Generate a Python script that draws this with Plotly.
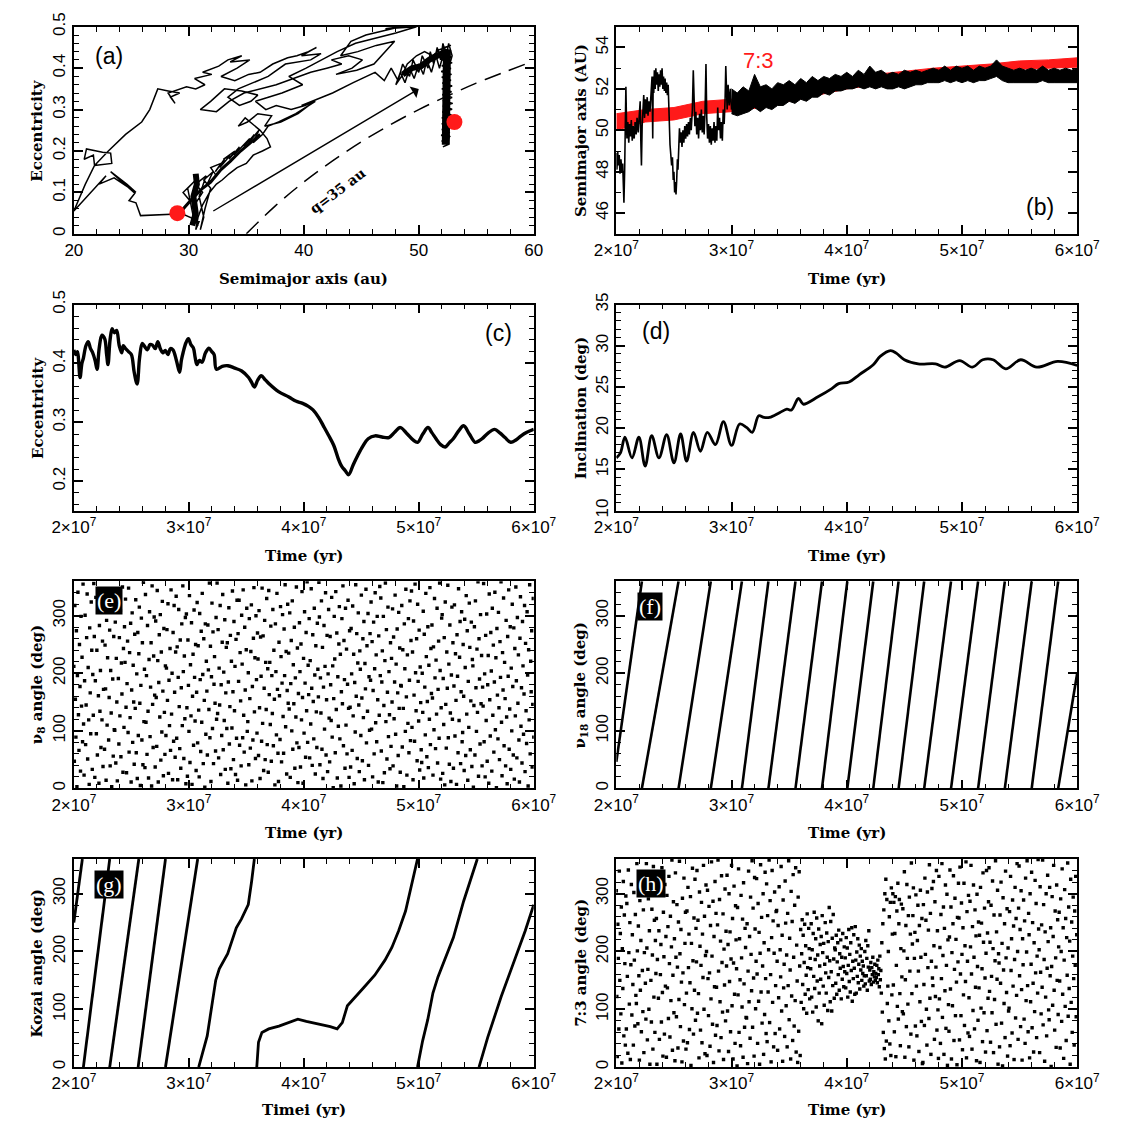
import numpy as np
import plotly.graph_objects as go

W, H = 1129, 1131

# ---------------- (a) eccentricity vs semimajor axis ----------------
traj = [
    (29.0, 0.048), (25.8, 0.044), (25.4, 0.075), (24.8, 0.08), (25.3, 0.098), (23.2, 0.15),
    (24.6, 0.12), (25.4, 0.10), (23.5, 0.135), (22.2, 0.12), (22.8, 0.14), (20.0, 0.055),
    (21.0, 0.12), (21.8, 0.165), (23.3, 0.17), (23.2, 0.195), (22.5, 0.197), (21.1, 0.205),
    (20.9, 0.18), (21.7, 0.19), (21.8, 0.165), (23.0, 0.2), (24.5, 0.24), (25.9, 0.27),
    (26.6, 0.30), (27.3, 0.35), (28.2, 0.345), (29.2, 0.34), (28.4, 0.33), (28.8, 0.315),
    (28.2, 0.34), (29.8, 0.355), (30.6, 0.35), (31.4, 0.36), (30.5, 0.375), (32.0, 0.385),
    (31.2, 0.39), (32.6, 0.405), (33.4, 0.42), (34.6, 0.43), (33.6, 0.415), (35.3, 0.42),
    (34.2, 0.40), (32.8, 0.38), (34.0, 0.37), (35.2, 0.385), (36.2, 0.39), (37.3, 0.41),
    (38.6, 0.425), (39.4, 0.43), (40.4, 0.44), (41.1, 0.45), (39.8, 0.43), (41.5, 0.435),
    (40.6, 0.42), (38.4, 0.41), (36.9, 0.38), (35.6, 0.365), (34.3, 0.35), (33.4, 0.33),
    (34.4, 0.31), (35.4, 0.32), (36.0, 0.335), (34.6, 0.345), (33.1, 0.35), (31.9, 0.32),
    (31.0, 0.30), (32.4, 0.295), (33.5, 0.32), (34.8, 0.34), (36.2, 0.35), (37.6, 0.36),
    (39.1, 0.375), (40.6, 0.39), (42.0, 0.40), (43.3, 0.41), (42.4, 0.42), (43.9, 0.43),
    (45.1, 0.42), (44.2, 0.40), (42.8, 0.385), (44.6, 0.395), (46.1, 0.41), (47.9, 0.465),
    (46.3, 0.455), (44.7, 0.44), (43.2, 0.43), (44.1, 0.465), (45.4, 0.48), (46.9, 0.49),
    (48.4, 0.50), (47.1, 0.495), (49.8, 0.50), (48.0, 0.485), (46.0, 0.47), (44.5, 0.46),
    (42.9, 0.44), (41.6, 0.42), (40.2, 0.40), (38.7, 0.38), (39.9, 0.36), (38.1, 0.34),
    (37.0, 0.33), (35.8, 0.32), (36.7, 0.30), (37.6, 0.31), (38.9, 0.30), (40.1, 0.31),
    (40.9, 0.32), (39.5, 0.29), (38.0, 0.27), (36.6, 0.26), (37.2, 0.285), (36.0, 0.29),
    (35.1, 0.27), (34.3, 0.26), (34.9, 0.28), (36.2, 0.25), (36.8, 0.23), (37.1, 0.21),
    (36.4, 0.20), (35.6, 0.19), (35.0, 0.17), (34.2, 0.16), (33.5, 0.145), (32.9, 0.13),
    (32.4, 0.12), (31.8, 0.10), (31.2, 0.07), (30.8, 0.04), (30.6, 0.01), (30.9, 0.03),
    # low-eccentricity clump near 30 au and the branch climbing out of it
    (29.3, 0.05), (30.1, 0.08), (29.5, 0.10), (30.6, 0.13), (29.9, 0.11), (30.4, 0.04),
    (30.8, 0.02), (30.5, 0.07), (31.2, 0.10), (30.6, 0.12), (31.5, 0.14), (30.9, 0.09),
    (31.3, 0.04), (31.0, 0.01), (31.4, 0.06), (31.9, 0.11), (31.3, 0.13), (32.1, 0.15),
    (31.6, 0.12), (32.4, 0.14), (31.9, 0.16), (32.8, 0.17), (32.3, 0.15), (33.1, 0.18),
    (32.7, 0.16), (33.6, 0.19), (33.0, 0.18), (34.0, 0.20), (33.5, 0.18), (34.4, 0.21),
    (33.9, 0.19), (34.9, 0.22), (34.3, 0.20), (35.3, 0.23), (34.8, 0.21), (35.7, 0.24),
    (35.2, 0.22), (36.1, 0.25), (35.6, 0.22), (36.4, 0.24), (36.9, 0.26), (37.8, 0.27),
    (39.3, 0.29), (41.0, 0.32), (39.8, 0.31), (42.5, 0.34), (44.3, 0.365), (46.2, 0.39),
    # dense cluster near 50 au
    (47.0, 0.37), (47.6, 0.40), (48.2, 0.37), (48.6, 0.41), (49.2, 0.38), (49.5, 0.42),
    (50.0, 0.39), (50.3, 0.43), (50.8, 0.40), (51.0, 0.44), (51.3, 0.41), (51.6, 0.45),
    (51.9, 0.42), (52.1, 0.46), (52.4, 0.43), (52.6, 0.46), (52.9, 0.43), (52.7, 0.41),
    (52.2, 0.44), (51.8, 0.40), (51.5, 0.43), (51.1, 0.39), (50.7, 0.42), (50.4, 0.385),
    (50.0, 0.41), (49.6, 0.375), (49.2, 0.40), (48.8, 0.365), (48.4, 0.39), (48.0, 0.36),
    (48.5, 0.38), (49.0, 0.41), (49.8, 0.43), (50.5, 0.44), (51.2, 0.43), (51.8, 0.445),
    (52.3, 0.45), (52.8, 0.455),
    # descent at nearly constant semimajor axis
    (52.0, 0.448), (52.85, 0.441), (51.95, 0.434), (52.8, 0.427), (52.0, 0.420), (52.9, 0.413),
    (52.0, 0.406), (52.8, 0.399), (51.95, 0.392), (52.85, 0.385), (52.0, 0.378), (52.8, 0.371),
    (52.05, 0.364), (52.9, 0.357), (52.0, 0.350), (52.85, 0.343), (52.05, 0.336), (52.9, 0.329),
    (52.1, 0.322), (52.95, 0.315), (52.1, 0.308), (52.9, 0.301), (52.05, 0.294), (52.85, 0.287),
    (52.0, 0.280), (52.8, 0.273), (52.0, 0.266), (52.75, 0.259), (52.0, 0.252), (52.7, 0.245),
    (51.95, 0.238), (52.65, 0.231), (52.0, 0.224), (52.6, 0.217), (52.1, 0.210), (52.5, 0.215),
    (52.2, 0.222), (52.7, 0.235), (52.3, 0.248), (52.85, 0.26), (53.1, 0.27),
]
traj_a = [p[0] for p in traj]
traj_e = [p[1] for p in traj]

# mean tracks of the stretches where the orbit oscillates too fast to resolve
dense_tracks = [
    [(30.3, 0.02), (30.6, 0.05), (30.4, 0.09), (30.7, 0.12), (30.6, 0.145)],
    [(29.5, 0.06), (30.3, 0.085), (31.2, 0.11), (31.9, 0.125), (32.8, 0.155), (33.6, 0.175),
     (34.5, 0.20), (35.4, 0.22), (36.2, 0.24)],
    [(48.6, 0.385), (49.4, 0.40), (50.2, 0.405), (50.9, 0.42), (51.6, 0.43), (52.3, 0.44)],
    [(52.45, 0.445), (52.4, 0.40), (52.5, 0.35), (52.45, 0.30), (52.35, 0.25), (52.35, 0.215)],
]
dense_track_widths = [6, 3, 6, 8]

endpoints_a = [29.0, 53.1]
endpoints_e = [0.05, 0.27]
# perihelion q = 35 au curve
q35_a = [35, 37.5, 40, 42.5, 45, 47.5, 50, 52.5, 55, 57.5, 59.4]
q35_e = [0.0, 0.067, 0.125, 0.176, 0.222, 0.263, 0.30, 0.333, 0.364, 0.391, 0.411]

# ---------------- (b) semimajor axis vs time (time in 1e7 yr) ----------------
b_early = [
    (2.000, 48.9), (2.005, 48.1), (2.012, 49.0), (2.018, 48.3), (2.025, 48.8), (2.032, 47.9),
    (2.040, 48.6), (2.048, 48.0), (2.055, 48.4), (2.062, 47.2), (2.066, 46.5), (2.072, 48.0),
    (2.078, 49.5), (2.083, 52.1), (2.088, 50.5), (2.092, 49.6), (2.100, 50.4), (2.108, 49.4),
    (2.115, 50.3), (2.122, 49.7), (2.130, 50.5), (2.138, 49.5), (2.146, 50.2), (2.155, 49.6),
    (2.163, 50.4), (2.172, 49.8), (2.180, 50.6), (2.190, 49.9), (2.200, 50.8), (2.207, 51.4),
    (2.213, 49.4), (2.218, 48.3), (2.224, 50.2), (2.232, 51.2), (2.238, 51.7), (2.245, 50.6),
    (2.252, 51.5), (2.260, 50.8), (2.268, 51.6), (2.275, 50.7), (2.283, 51.4), (2.292, 50.9),
    (2.300, 51.8), (2.310, 52.6), (2.316, 49.6), (2.320, 52.6), (2.325, 51.8), (2.330, 52.9),
    (2.337, 52.0), (2.343, 53.0), (2.350, 52.2), (2.357, 52.8), (2.364, 51.9), (2.370, 52.7),
    (2.377, 52.1), (2.384, 52.9), (2.390, 52.2), (2.397, 53.0), (2.404, 52.0), (2.410, 52.6),
    (2.417, 51.9), (2.423, 52.5), (2.430, 51.8), (2.437, 52.3), (2.443, 51.7), (2.450, 52.2),
    (2.458, 50.5), (2.466, 49.3), (2.473, 48.8), (2.480, 48.3), (2.487, 48.7), (2.494, 47.6),
    (2.500, 48.0), (2.506, 47.0), (2.512, 47.5), (2.518, 46.9), (2.524, 47.6), (2.530, 48.6),
    (2.535, 48.1), (2.542, 49.2), (2.548, 50.1), (2.555, 49.4), (2.562, 49.9), (2.570, 49.2),
    (2.578, 50.0), (2.586, 49.4), (2.594, 50.2), (2.602, 49.6), (2.610, 50.3), (2.618, 49.7),
    (2.626, 50.4), (2.634, 49.8), (2.642, 50.6), (2.650, 50.0), (2.660, 51.0), (2.668, 52.9),
    (2.675, 51.0), (2.682, 50.2), (2.690, 50.9), (2.698, 49.8), (2.706, 50.6), (2.714, 49.6),
    (2.722, 50.8), (2.730, 50.0), (2.738, 51.0), (2.746, 49.9), (2.754, 50.7), (2.762, 49.8),
    (2.770, 50.9), (2.778, 53.2), (2.785, 50.6), (2.792, 49.6), (2.800, 50.3), (2.808, 49.4),
    (2.816, 50.2), (2.824, 49.3), (2.832, 50.1), (2.840, 49.5), (2.848, 50.4), (2.856, 49.4),
    (2.864, 50.2), (2.872, 49.5), (2.880, 51.1), (2.888, 50.0), (2.896, 50.6), (2.904, 49.6),
    (2.912, 50.4), (2.920, 49.5), (2.928, 51.0), (2.936, 50.3), (2.944, 51.5), (2.950, 53.1),
    (2.956, 52.0), (2.962, 51.0), (2.970, 52.2), (2.980, 51.2), (2.990, 52.0), (3.000, 51.0),
]
b_early_t = [p[0] for p in b_early]
b_early_a = [p[1] for p in b_early]

# envelope of the rapidly oscillating black curve, 3.00 .. 6.00 (step 0.05)
b_band_hi = [52.0, 51.8, 52.1, 51.9, 52.7, 52.1, 52.2, 52.0, 52.3, 52.2, 52.4, 52.2, 52.5, 52.3, 52.6,
             52.4, 52.6, 52.5, 52.7, 52.6, 52.8, 52.6, 52.9, 52.7, 53.1, 52.8, 52.9, 52.7, 52.8, 52.7,
             52.9, 52.8, 52.9, 52.8, 52.9, 53.0, 52.9, 53.1, 52.9, 53.1, 53.0, 53.1, 52.9, 53.1, 53.0,
             53.1, 53.4, 53.1, 53.0, 52.9, 53.0, 52.9, 53.0, 52.9, 53.1, 52.9, 53.0, 52.9, 53.0, 52.9,
             53.0]
b_band_lo = [50.8, 50.7, 50.8, 50.9, 51.1, 50.9, 51.1, 51.0, 51.2, 51.2, 51.4, 51.3, 51.5, 51.4, 51.6,
             51.6, 51.8, 51.7, 51.9, 51.9, 52.0, 52.0, 52.1, 52.0, 52.1, 52.0, 52.1, 52.0, 52.0, 52.1,
             52.0, 52.1, 52.2, 52.2, 52.3, 52.3, 52.3, 52.4, 52.3, 52.4, 52.3, 52.4, 52.3, 52.4, 52.4,
             52.5, 52.6, 52.4, 52.3, 52.3, 52.3, 52.3, 52.3, 52.3, 52.4, 52.3, 52.3, 52.3, 52.3, 52.3,
             52.3]
b_band_t = np.linspace(3.0, 6.0, len(b_band_hi))

# 7:3 resonance location band
res73_t = [2.0, 2.25, 2.5, 2.75, 3.0, 3.25, 3.5, 3.75, 4.0, 4.25, 4.5, 4.75, 5.0, 5.25, 5.5, 5.75, 6.0]
res73_lo = [50.0, 50.4, 50.5, 50.8, 50.9, 51.1, 51.4, 51.7, 52.0, 52.2, 52.4, 52.55, 52.7, 52.85, 52.95, 53.0, 53.05]
res73_hi = [50.8, 51.0, 51.1, 51.4, 51.5, 51.5, 51.9, 52.2, 52.5, 52.7, 52.85, 53.0, 53.1, 53.2, 53.35, 53.4, 53.5]

# ---------------- (c) eccentricity vs time ----------------
ecc_curve = [
    (2.000, 0.423), (2.015, 0.415), (2.030, 0.420), (2.054, 0.376), (2.070, 0.400), (2.083, 0.409),
    (2.105, 0.430), (2.125, 0.437), (2.145, 0.425), (2.164, 0.418), (2.185, 0.405), (2.202, 0.390),
    (2.220, 0.425), (2.244, 0.448), (2.268, 0.442), (2.285, 0.415), (2.297, 0.398), (2.315, 0.440),
    (2.333, 0.459), (2.352, 0.452), (2.372, 0.456), (2.395, 0.430), (2.416, 0.418), (2.430, 0.430),
    (2.446, 0.426), (2.475, 0.420), (2.500, 0.415), (2.525, 0.385), (2.550, 0.365), (2.572, 0.410),
    (2.595, 0.434), (2.618, 0.428), (2.640, 0.423), (2.662, 0.432), (2.684, 0.431), (2.708, 0.425),
    (2.730, 0.437), (2.752, 0.425), (2.773, 0.418), (2.796, 0.422), (2.818, 0.415), (2.840, 0.425),
    (2.862, 0.423), (2.892, 0.405), (2.920, 0.385), (2.935, 0.405), (2.950, 0.418), (2.975, 0.435),
    (2.996, 0.442), (3.018, 0.432), (3.040, 0.426), (3.055, 0.410), (3.070, 0.398), (3.092, 0.405),
    (3.115, 0.402), (3.145, 0.418), (3.175, 0.426), (3.200, 0.420), (3.220, 0.415), (3.240, 0.390),
    (3.290, 0.395), (3.340, 0.396), (3.400, 0.392), (3.460, 0.387), (3.520, 0.376), (3.545, 0.368),
    (3.570, 0.360), (3.600, 0.372), (3.630, 0.379), (3.665, 0.372), (3.700, 0.365), (3.780, 0.352),
    (3.870, 0.343), (3.930, 0.336), (3.990, 0.332), (4.040, 0.327), (4.080, 0.321), (4.130, 0.308),
    (4.170, 0.294), (4.215, 0.278), (4.260, 0.261), (4.300, 0.238), (4.330, 0.225), (4.360, 0.218),
    (4.390, 0.211), (4.430, 0.228), (4.470, 0.244), (4.515, 0.260), (4.560, 0.272), (4.620, 0.277),
    (4.680, 0.275), (4.740, 0.274), (4.790, 0.283), (4.840, 0.291), (4.900, 0.280), (4.950, 0.270),
    (4.990, 0.266), (5.035, 0.280), (5.080, 0.291), (5.115, 0.282), (5.150, 0.272), (5.190, 0.262),
    (5.230, 0.258), (5.265, 0.265), (5.300, 0.272), (5.345, 0.285), (5.390, 0.294), (5.440, 0.280),
    (5.490, 0.266), (5.520, 0.268), (5.550, 0.272), (5.605, 0.282), (5.660, 0.288), (5.705, 0.282),
    (5.750, 0.274), (5.800, 0.266), (5.845, 0.270), (5.890, 0.277), (5.940, 0.283), (6.000, 0.288),
]
ecc_t = [p[0] for p in ecc_curve]
ecc_v = [p[1] for p in ecc_curve]

# ---------------- (d) inclination vs time ----------------
inc_curve = [
    (2.000, 16.4), (2.036, 17.0), (2.075, 18.9), (2.136, 16.4), (2.196, 18.9), (2.250, 15.4),
    (2.307, 19.1), (2.370, 16.4), (2.437, 19.2), (2.500, 15.8), (2.558, 19.3), (2.610, 16.0),
    (2.670, 19.5), (2.730, 17.2), (2.790, 19.5), (2.860, 18.0), (2.930, 20.8), (3.000, 17.9),
    (3.070, 20.5), (3.130, 20.1), (3.180, 19.5), (3.236, 21.5), (3.280, 21.3), (3.330, 21.3),
    (3.420, 21.9), (3.480, 22.3), (3.520, 22.2), (3.580, 23.6), (3.610, 23.1), (3.625, 22.9),
    (3.750, 23.8), (3.870, 24.8), (3.930, 25.4), (4.020, 25.6), (4.110, 26.5), (4.230, 27.7),
    (4.290, 28.7), (4.380, 29.4), (4.430, 29.1), (4.500, 28.3), (4.620, 27.8), (4.770, 27.8),
    (4.850, 27.4), (4.980, 28.2), (5.090, 27.4), (5.180, 28.3), (5.270, 28.3), (5.380, 27.2),
    (5.510, 28.3), (5.650, 27.4), (5.830, 28.1), (6.000, 27.6),
]
inc_t = [p[0] for p in inc_curve]
inc_v = [p[1] for p in inc_curve]

# ---------------- (e) nu8 angle samples (evenly spaced outputs) ----------------
nu8_angle = [
    212, 47, 318, 155, 89, 274, 3, 196, 341, 128, 66, 250, 177, 30, 299, 143, 228, 81, 355, 112,
    23, 187, 301, 76, 145, 262, 338, 51, 210, 119, 7, 279, 166, 95, 324, 240, 33, 198, 127, 356,
    264, 19, 187, 332, 95, 240, 58, 306, 161, 9, 283, 134, 205, 71, 347, 119, 256, 38, 172, 321,
    68, 249, 173, 14, 292, 110, 227, 341, 84, 158, 275, 39, 205, 131, 3, 316, 190, 56, 264, 102,
    101, 289, 44, 226, 150, 13, 337, 191, 77, 262, 126, 309, 55, 218, 164, 350, 28, 243, 106, 281,
    219, 329, 141, 27, 182, 256, 97, 348, 63, 236, 123, 287, 11, 171, 305, 80, 214, 150, 42, 268,
    139, 328, 62, 199, 17, 271, 92, 234, 315, 148, 5, 179, 296, 84, 253, 41, 358, 116, 207, 36,
    337, 115, 196, 59, 283, 134, 18, 224, 307, 90, 176, 253, 4, 352, 146, 71, 230, 298, 162, 37,
    291, 158, 73, 344, 222, 11, 184, 267, 124, 302, 49, 237, 98, 325, 169, 22, 278, 132, 59, 213,
    92, 209, 276, 153, 321, 26, 188, 109, 243, 66, 345, 129, 200, 15, 271, 82, 318, 167, 54, 237,
    334, 87, 246, 15, 193, 311, 142, 69, 258, 35, 175, 286, 109, 352, 203, 52, 230, 121, 297, 8,
    303, 140, 21, 258, 179, 99, 335, 45, 215, 126, 288, 7, 160, 233, 75, 310, 193, 117, 250, 31,
    167, 323, 79, 248, 136, 20, 304, 189, 64, 273, 115, 339, 198, 43, 260, 153, 2, 286, 94, 221,
    169, 58, 284, 206, 137, 357, 88, 247, 12, 194, 322, 104, 272, 43, 181, 229, 148, 65, 297, 120,
    357, 130, 276, 53, 209, 145, 318, 24, 180, 92, 254, 337, 67, 202, 118, 293, 33, 166, 245, 104,
    253, 9, 185, 314, 77, 142, 266, 34, 221, 105, 343, 168, 50, 290, 135, 212, 24, 259, 87, 327,
    14, 269, 186, 327, 75, 236, 152, 39, 301, 216, 88, 345, 127, 63, 280, 171, 6, 241, 313, 99,
    116, 201, 41, 295, 156, 70, 238, 319, 13, 177, 84, 261, 349, 133, 227, 52, 300, 189, 96, 270,
    225, 57, 309, 140, 17, 263, 195, 82, 348, 113, 265, 31, 174, 292, 50, 219, 137, 330, 76, 208,
    28, 344, 163, 219, 111, 282, 47, 196, 130, 311, 74, 240, 155, 6, 286, 203, 93, 339, 172, 61,
    12, 254, 161, 85, 316, 229, 46, 183, 302, 125, 61, 277, 196, 354, 107, 238, 25, 170, 320, 148,
    235, 138, 305, 19, 182, 257, 100, 326, 68, 215, 147, 280, 35, 192, 124, 350, 79, 244, 10, 165,
    71, 288, 203, 37, 251, 119, 342, 158, 9, 226, 96, 307, 183, 54, 271, 135, 359, 80, 214, 163,
    295, 53, 222, 112, 347, 174, 40, 267, 151, 86, 313, 197, 25, 248, 133, 71, 287, 207, 159, 358,
    298, 41, 192, 131, 326, 68, 245, 17, 176, 283, 103, 212, 340, 58, 154, 266, 29, 199, 311, 122,
    46, 264, 180, 118, 332, 89, 213, 1, 156, 299, 225, 62, 342, 137, 270, 18, 194, 108, 251, 316,
    86, 233, 4, 168, 295, 147, 352, 74, 257, 189, 35, 313, 110, 242, 60, 181, 327, 139, 19, 274,
    141, 37, 278, 199, 66, 317, 126, 233, 8, 184, 98, 354, 160, 269, 52, 218, 305, 145, 29, 239,
    207, 92, 336, 157, 48, 260, 123, 290, 15, 217, 173, 346, 79, 248, 134, 304, 40, 194, 101, 269,
    188, 324, 103, 255, 20, 170, 289, 60, 208, 340, 114, 232, 81, 299, 154, 11, 265, 127, 351, 196,
    331, 65, 185, 239, 10, 299, 144, 27, 222, 357, 116, 276, 51, 167, 315, 90, 203, 128, 34, 253,
    73, 226, 150, 312, 39, 263, 121, 185, 336, 94, 216, 4, 277, 166, 57, 306, 139, 244, 28, 179,
    178, 318, 72, 241, 139, 3, 286, 208, 99, 346, 159, 23, 232, 113, 295, 62, 188, 326, 83, 257,
    343, 106, 237, 15, 291, 162, 82, 355, 201, 135, 260, 48, 320, 186, 117, 275, 32, 211, 149, 67,
    45, 200, 132, 308, 18, 268, 176, 93, 339, 229, 55, 151, 281, 36, 214, 120, 349, 76, 243, 165,
    284, 157, 23, 246, 102, 330, 192, 69, 223, 129, 313, 44, 172, 256, 87, 357, 205, 16, 140, 296,
    302, 26, 191, 111, 262, 6, 324, 146, 70, 237, 174, 353, 88, 216, 42, 284, 131, 12, 197, 315,
    120, 253, 35, 178, 319, 91, 234, 153, 7, 267, 195, 62, 347, 118, 228, 290, 43, 168, 307, 81,
    97, 250, 160, 31, 294, 210, 57, 335, 129, 274, 14, 186, 106, 322, 245, 67, 152, 289, 38, 224,
    213, 2, 144, 281, 58, 326, 175, 99, 242, 132, 359, 21, 260, 190, 77, 302, 147, 231, 39, 176,
    143, 356, 81, 199, 20, 266, 118, 303, 47, 180, 231, 9, 338, 154, 91, 271, 204, 30, 313, 127,
    249, 63, 185, 341, 102, 227, 1, 278, 162, 86, 306, 140, 50, 255, 193, 359, 115, 22, 236, 171,
    331, 74, 219, 156, 39, 292, 124, 8, 264, 195, 345, 68, 138, 281, 33, 209, 100, 320, 177, 58,
    279, 16, 243, 126, 350, 187, 53, 297, 148, 232, 84, 11, 261, 333, 108, 175, 44, 290, 213, 94,
    164, 318, 29, 252, 135, 78, 307, 197, 4, 241, 119, 354, 60, 221, 168, 274, 37, 146, 330, 89,
]

# ---------------- (f) nu18 angle: circulation, times (1e7 yr) where it wraps 360 -> 0 ----------------
nu18_start_angle = 46
nu18_wrap_t = [2.222, 2.540, 2.820, 3.090, 3.320, 3.555, 3.785, 4.005, 4.230, 4.450,
               4.672, 4.905, 5.140, 5.372, 5.605, 5.835]
nu18_end_angle = 200

# ---------------- (g) Kozai angle branches (time 1e7 yr, angle deg) ----------------
kozai_branches = [
    [(2.000, 250), (2.074, 360)],
    [(2.083, 0), (2.312, 360)],
    [(2.312, 0), (2.565, 360)],
    [(2.559, 0), (2.797, 360)],
    [(2.797, 0), (3.077, 360)],
    [(3.086, 0), (3.160, 54), (3.234, 150), (3.265, 170), (3.338, 196), (3.413, 241),
     (3.457, 256), (3.517, 281), (3.546, 321), (3.570, 360)],
    [(3.591, 0), (3.606, 43), (3.636, 60), (3.695, 66), (3.784, 71), (3.903, 80), (3.948, 83),
     (4.022, 79), (4.141, 74), (4.230, 70), (4.290, 66), (4.335, 77), (4.379, 106), (4.439, 119),
     (4.483, 128), (4.528, 139), (4.617, 159), (4.706, 185), (4.766, 207), (4.825, 236),
     (4.885, 270), (4.944, 321), (4.989, 360)],
    [(4.989, 0), (5.033, 45), (5.078, 82), (5.123, 128), (5.167, 156), (5.227, 185),
     (5.301, 224), (5.390, 287), (5.509, 360)],
    [(5.524, 0), (5.599, 51), (5.717, 122), (5.836, 188), (5.926, 236), (6.000, 281)],
]

# ---------------- (h) 7:3 resonant angle samples, grouped by time span (1e7 yr) ----------------
res73_circ_early = [
    305, 122, 18, 247, 188, 66, 339, 150, 231, 92, 277, 7, 205, 136, 321, 54, 263, 179, 38, 296,
    66, 283, 157, 24, 341, 198, 109, 250, 13, 177, 316, 90, 229, 143, 38, 302, 185, 71, 264, 124,
    110, 352, 201, 75, 244, 158, 12, 288, 133, 219, 61, 334, 167, 96, 272, 25, 198, 310, 145, 83,
    352, 206, 47, 169, 291, 100, 236, 5, 319, 150, 78, 273, 194, 31, 347, 121, 254, 60, 219, 162,
    257, 5, 186, 323, 119, 236, 48, 299, 160, 212, 78, 345, 129, 19, 268, 191, 57, 316, 140, 226,
    17, 297, 137, 243, 84, 330, 179, 52, 261, 115, 208, 358, 29, 159, 286, 94, 222, 11, 336, 190,
    87, 281, 173, 33, 251, 117, 356, 196, 70, 238, 147, 9, 292, 163, 45, 327, 108, 214, 268, 31,
    128, 270, 42, 311, 172, 230, 65, 146, 295, 3, 214, 101, 344, 184, 57, 258, 133, 325, 81, 240,
    182, 340, 93, 254, 127, 16, 303, 209, 64, 176, 285, 42, 230, 155, 349, 100, 261, 23, 193, 315,
    200, 20, 306, 153, 89, 278, 163, 36, 245, 118, 355, 192, 74, 287, 8, 226, 139, 321, 55, 266,
    138, 72, 246, 358, 166, 28, 290, 113, 218, 51, 331, 181, 95, 265, 13, 204, 142, 308, 80, 235,
    175, 332, 97, 212, 27, 300, 148, 234, 61, 187, 349, 106, 257, 14, 180, 313, 126, 41, 279, 220,
    170, 2, 276, 125, 343, 60, 222, 151, 37, 297, 189, 104, 256, 17, 319, 144, 69, 240, 207, 86,
    85, 248, 6, 166, 339, 113, 226, 50, 294, 195, 132, 357, 69, 275, 154, 19, 328, 239, 101, 183,
    326, 161, 41, 283, 114, 233, 5, 197, 350, 130, 259, 76, 175, 300, 22, 215, 91, 337, 153, 58,
    317, 44, 262, 130, 203, 358, 77, 288, 160, 9, 224, 340, 112, 253, 35, 197, 303, 58, 141, 269,
    271, 183, 29, 245, 120, 312, 66, 203, 156, 347, 97, 228, 10, 289, 137, 178, 53, 322, 249, 106,
    194, 35, 266, 141, 357, 82, 223, 168, 14, 304, 123, 252, 46, 333, 190, 71, 280, 115, 345, 26,
    211, 149, 8, 294, 62, 338, 175, 20,
]
res73_libr_a = [
    238, 112, 196, 255, 143, 228, 101, 181, 247, 126, 210, 159, 93, 265, 172, 134, 240, 205, 118, 188,
    170, 248, 121, 203, 95, 231, 157, 268, 136, 186, 222, 104, 258, 149, 194, 80, 239, 128, 175, 212,
    152, 226, 75, 262, 198, 140, 214, 107, 178, 250, 163, 128, 232, 190, 98, 217, 155, 276, 184,
    113, 252, 165, 97, 223, 141, 264, 187, 119, 206,
]
res73_libr_b = [
    203, 145, 228, 126, 182, 215, 160, 237, 133, 196, 171, 220, 118, 190, 152, 231, 174, 139, 208, 165,
    189, 137, 224, 162, 206, 121, 176, 238, 148, 195, 130, 215, 167, 241, 114, 183, 153, 229, 171, 126,
    243, 185, 128, 199, 157, 222, 146, 178, 211, 135, 192, 168, 205, 150, 183, 162, 175, 140, 158,
    200, 144, 219, 158, 188, 133, 210, 173, 236, 149,
]
res73_libr_c = [168, 152, 181, 143, 172, 160, 190, 147, 165, 156, 178, 150, 162,
                155, 176, 146, 185, 160, 170, 139, 192, 151, 167]
res73_exit = [128, 215, 95, 248, 60, 272, 32, 300, 14, 325, 45, 290, 110,
              140, 200, 80, 260, 40, 285, 20, 310, 125, 230]
res73_circ_late = [
    300, 142, 285, 61, 231, 295, 18, 176, 270, 105, 318, 83, 248, 290, 127, 37, 205, 282, 156, 96,
    274, 92, 201, 338, 17, 151, 245, 70, 316, 188, 109, 262, 35, 294, 166, 230, 57, 353, 127, 213,
    262, 310, 12, 188, 233, 71, 298, 140, 54, 219, 280, 166, 27, 245, 113, 306, 190, 79, 257, 6,
    8, 281, 143, 72, 327, 195, 254, 100, 38, 303, 172, 237, 84, 350, 119, 266, 22, 183, 309, 154,
    141, 321, 210, 48, 286, 122, 173, 340, 64, 236, 99, 15,
    330, 118, 207, 41, 264, 153, 352, 86, 193, 277, 22, 240, 132, 315, 67, 176, 299, 3, 220, 108,
    62, 225, 341, 135, 277, 14, 198, 106, 248, 331, 46, 169, 292, 89, 221, 147, 4, 259, 182, 318,
    258, 47, 346, 161, 89, 284, 195, 30, 241, 125, 318, 72, 210, 148, 355, 16, 269, 183, 59, 297,
    120, 53, 287, 208, 349, 161, 31, 243, 98, 315, 190, 66, 272, 138, 227, 11, 299, 174, 81, 251,
    137, 228, 8, 311, 102, 249, 170, 44, 336, 216, 94, 275, 154, 26, 197, 340, 63, 232, 119, 286,
    345, 131, 216, 43, 280, 157, 94, 322, 205, 25, 263, 117, 184, 357, 74, 234, 152, 306, 5, 196,
    180, 35, 263, 145, 320, 76, 214, 2, 293, 168, 110, 248, 51, 339, 189, 129, 274, 19, 206, 97,
    102, 269, 37, 330, 167, 222, 59, 289, 140, 244, 13, 186, 311, 85, 257, 124, 352, 200, 48, 275,
    348, 158, 238, 70, 305, 134, 12, 222, 177, 289, 83, 253, 41, 327, 115, 199, 357, 141, 61, 266,
    229, 16, 300, 113, 178, 337, 68, 250, 145, 26, 215, 96, 323, 163, 283, 51, 192, 128, 359, 239,
    203, 25, 312, 164, 92, 246, 138, 358, 73, 281, 186, 10, 234, 121, 300, 54, 171, 332, 217, 99,
    82, 311, 158, 241, 1, 174, 295, 107, 226, 349, 133, 64, 270, 189, 34, 315, 150, 255, 91, 208,
    268, 149, 33, 291, 200, 79, 343, 126, 241, 15, 185, 307, 105, 257, 46, 224, 159, 353, 88, 277,
    136, 218, 5, 325, 112, 251, 60, 192, 294, 153, 38, 270, 176, 330, 87, 229,
]
res73_segments = [
    (2.0, 3.6, res73_circ_early),
    (3.6, 3.9, res73_libr_a),
    (3.9, 4.2, res73_libr_b),
    (4.2, 4.3, res73_libr_c),
    (4.3, 4.4, res73_exit),
    (4.4, 6.0, res73_circ_late),
]

# axis tick labels
time_ticks = [2e7, 3e7, 4e7, 5e7, 6e7]
time_ticktext = ["2×10<sup>7</sup>", "3×10<sup>7</sup>", "4×10<sup>7</sup>",
                 "5×10<sup>7</sup>", "6×10<sup>7</sup>"]

YR = 1e7  # time lists are stored in units of 1e7 yr

# ---------------- figure ----------------
fig = go.Figure()
BLACK = "black"
RED = "#ff1a1a"
DOT = dict(color=BLACK, size=3.4, symbol="square", line=dict(width=0))

# (a)
fig.add_trace(go.Scatter(x=traj_a, y=traj_e, mode="lines", line=dict(color=BLACK, width=1.5),
                         xaxis="x", yaxis="y"))
for track, lw in zip(dense_tracks, dense_track_widths):
    fig.add_trace(go.Scatter(x=[p[0] for p in track], y=[p[1] for p in track], mode="lines",
                             line=dict(color=BLACK, width=lw), xaxis="x", yaxis="y"))
fig.add_trace(go.Scatter(x=q35_a, y=q35_e, mode="lines", line_shape="spline",
                         line=dict(color=BLACK, width=1.5, dash="17px,9px"), xaxis="x", yaxis="y"))
fig.add_trace(go.Scatter(x=endpoints_a, y=endpoints_e, mode="markers",
                         marker=dict(color=RED, size=16, line=dict(width=0)), xaxis="x", yaxis="y"))

# (b)
fig.add_trace(go.Scatter(x=[t * YR for t in res73_t], y=res73_lo, mode="lines",
                         line=dict(color=RED, width=1), xaxis="x2", yaxis="y2"))
fig.add_trace(go.Scatter(x=[t * YR for t in res73_t], y=res73_hi, mode="lines", fill="tonexty",
                         fillcolor=RED, line=dict(color=RED, width=1), xaxis="x2", yaxis="y2"))
fig.add_trace(go.Scatter(x=b_band_t * YR, y=b_band_lo, mode="lines",
                         line=dict(color=BLACK, width=1), xaxis="x2", yaxis="y2"))
fig.add_trace(go.Scatter(x=b_band_t * YR, y=b_band_hi, mode="lines", fill="tonexty",
                         fillcolor=BLACK, line=dict(color=BLACK, width=1), xaxis="x2", yaxis="y2"))
fig.add_trace(go.Scatter(x=[t * YR for t in b_early_t], y=b_early_a, mode="lines",
                         line=dict(color=BLACK, width=1.6), xaxis="x2", yaxis="y2"))

# (c)
fig.add_trace(go.Scatter(x=[t * YR for t in ecc_t], y=ecc_v, mode="lines", line_shape="spline",
                         line=dict(color=BLACK, width=3.4), xaxis="x3", yaxis="y3"))
# (d)
fig.add_trace(go.Scatter(x=[t * YR for t in inc_t], y=inc_v, mode="lines", line_shape="spline",
                         line=dict(color=BLACK, width=2.8), xaxis="x4", yaxis="y4"))
# (e)
fig.add_trace(go.Scatter(x=np.linspace(2e7, 6e7, len(nu8_angle)), y=nu8_angle, mode="markers",
                         marker=DOT, xaxis="x5", yaxis="y5"))
# (f)
f_x, f_y = [2.0 * YR, nu18_wrap_t[0] * YR, None], [nu18_start_angle, 360, None]
for t0, t1 in zip(nu18_wrap_t[:-1], nu18_wrap_t[1:]):
    f_x += [t0 * YR, t1 * YR, None]
    f_y += [0, 360, None]
f_x += [nu18_wrap_t[-1] * YR, 6.0 * YR]
f_y += [0, nu18_end_angle]
fig.add_trace(go.Scatter(x=f_x, y=f_y, mode="lines", line=dict(color=BLACK, width=2.6),
                         connectgaps=False, xaxis="x6", yaxis="y6"))
# (g)
g_x, g_y = [], []
for br in kozai_branches:
    g_x += [p[0] * YR for p in br] + [None]
    g_y += [p[1] for p in br] + [None]
fig.add_trace(go.Scatter(x=g_x, y=g_y, mode="lines", line=dict(color=BLACK, width=2.8),
                         connectgaps=False, xaxis="x7", yaxis="y7"))
# (h)
h_x, h_y = [], []
for t0, t1, vals in res73_segments:
    h_x += list(np.linspace(t0 * YR, t1 * YR, len(vals), endpoint=False))
    h_y += vals
fig.add_trace(go.Scatter(x=h_x, y=h_y, mode="markers", marker=DOT, xaxis="x8", yaxis="y8"))

# ---------------- axes ----------------
TICKFONT = dict(family="Liberation Sans, Arial, sans-serif", size=17, color=BLACK)
col_dom = [[54 / W, 533 / W], [619 / W, 1099 / W]]
row_px = [(13, 224), (296, 506), (578, 789), (861, 1073)]
row_dom = [[1 - b / H, 1 - t / H] for t, b in row_px]


def base_axis():
    return dict(showline=True, linecolor=BLACK, linewidth=1.6, mirror="ticks", ticks="inside",
                ticklen=9, tickwidth=1.5, tickcolor=BLACK, showgrid=False, zeroline=False,
                tickfont=TICKFONT, fixedrange=True)


def time_axis():
    ax = base_axis()
    ax.update(range=[2e7, 6e7], tickmode="array", tickvals=time_ticks, ticktext=time_ticktext,
              minor=dict(tickmode="linear", tick0=2e7, dtick=2e6, ticks="inside", ticklen=5,
                         tickwidth=1.2, tickcolor=BLACK, showgrid=False))
    return ax


def value_axis(rng, tickvals, minor_dtick, tick0=0):
    ax = base_axis()
    ax.update(range=rng, tickmode="array", tickvals=tickvals, tickangle=-90,
              minor=dict(tickmode="linear", tick0=tick0, dtick=minor_dtick, ticks="inside",
                         ticklen=5, tickwidth=1.2, tickcolor=BLACK, showgrid=False))
    return ax


panel_axes = [
    (dict(base_axis(), range=[20, 60], tickmode="array", tickvals=[20, 30, 40, 50, 60],
          minor=dict(tickmode="linear", tick0=20, dtick=2, ticks="inside", ticklen=5,
                     tickwidth=1.2, tickcolor=BLACK, showgrid=False)),
     value_axis([0, 0.5], [0, 0.1, 0.2, 0.3, 0.4, 0.5], 0.02)),
    (time_axis(), value_axis([45, 55], [46, 48, 50, 52, 54], 1)),
    (time_axis(), value_axis([0.15, 0.5], [0.2, 0.3, 0.4, 0.5], 0.02)),
    (time_axis(), value_axis([10, 35], [10, 15, 20, 25, 30, 35], 1)),
    (time_axis(), value_axis([0, 360], [0, 100, 200, 300], 20)),
    (time_axis(), value_axis([0, 360], [0, 100, 200, 300], 20)),
    (time_axis(), value_axis([0, 360], [0, 100, 200, 300], 20)),
    (time_axis(), value_axis([0, 360], [0, 100, 200, 300], 20)),
]

layout_axes = {}
for i, (xa, ya) in enumerate(panel_axes):
    n = "" if i == 0 else str(i + 1)
    row, col = divmod(i, 2)
    xa = dict(xa, domain=col_dom[col], anchor="y" + n)
    ya = dict(ya, domain=row_dom[row], anchor="x" + n)
    layout_axes["xaxis" + n] = xa
    layout_axes["yaxis" + n] = ya


def px_ann(text, px, py, size=17, family="DejaVu Serif", color=BLACK, angle=0, **kw):
    return dict(text=text, x=px / W, y=1 - py / H, xref="paper", yref="paper", showarrow=False,
                xanchor="center", yanchor="middle", textangle=angle,
                font=dict(family=family, size=size, color=color), **kw)


TITLE_FONT = "DejaVu Serif"
annotations = []
x_titles = ["Semimajor axis (au)", "Time (yr)", "Time (yr)", "Time (yr)", "Time (yr)",
            "Time (yr)", "Timei (yr)", "Time (yr)"]
y_titles = ["Eccentricity", "Semimajor axis (AU)", "Eccentricity", "Inclination (deg)",
            "ν<sub>8</sub> angle (deg)", "ν<sub>18</sub> angle (deg)", "Kozai angle (deg)",
            "7:3 angle (deg)"]
x_title_py = [270, 552, 834, 1117]
y_title_px = [16, 582]
row_mid = [(t + b) / 2 for t, b in row_px]
for i in range(8):
    row, col = divmod(i, 2)
    xc = (col_dom[col][0] + col_dom[col][1]) / 2 * W
    annotations.append(px_ann("<b>" + x_titles[i] + "</b>", xc, x_title_py[row], size=15,
                              family=TITLE_FONT))
    annotations.append(px_ann("<b>" + y_titles[i] + "</b>", y_title_px[col], row_mid[row],
                              size=15, family=TITLE_FONT, angle=-90))

LABEL_FONT = "Liberation Sans, Arial, sans-serif"
annotations += [
    px_ann("(a)", 91, 43, size=23, family=LABEL_FONT),
    px_ann("(b)", 1060, 197, size=23, family=LABEL_FONT),
    px_ann("(c)", 496, 325, size=23, family=LABEL_FONT),
    px_ann("(d)", 660, 323, size=23, family=LABEL_FONT),
    px_ann("7:3", 767, 47, size=22, family=LABEL_FONT, color=RED),
]
for lab, (px, py) in zip(["(e)", "(f)", "(g)", "(h)"], [(91, 598), (654, 604), (91, 887), (655, 886)]):
    annotations.append(px_ann(lab, px, py, size=22, family="Liberation Serif, serif", color="white",
                              bgcolor=BLACK, borderpad=1))

# arrow and q=35 au label in (a)
annotations.append(dict(x=50, y=0.35, ax=32, ay=0.053, xref="x", yref="y", axref="x", ayref="y",
                        showarrow=True, arrowhead=1, arrowsize=1.6, arrowwidth=1.4,
                        arrowcolor=BLACK, text=""))
annotations.append(dict(x=42.9, y=0.104, xref="x", yref="y", text="<b>q=35 au</b>",
                        showarrow=False, textangle=-37,
                        font=dict(family=TITLE_FONT, size=14, color=BLACK)))

fig.update_layout(
    width=W, height=H, margin=dict(l=0, r=0, t=0, b=0),
    paper_bgcolor="white", plot_bgcolor="white", showlegend=False,
    annotations=annotations, **layout_axes,
)

fig.write_html("out.html")
